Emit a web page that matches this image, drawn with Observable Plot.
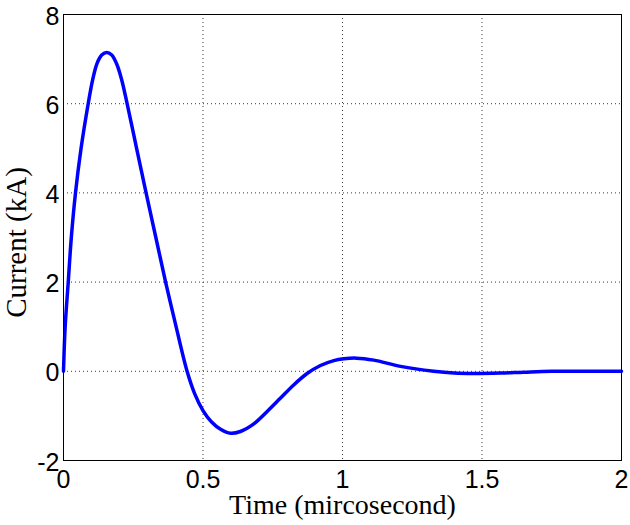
<!DOCTYPE html>
<html><head><meta charset="utf-8">
<script src="https://cdn.jsdelivr.net/npm/d3@7"></script>
<script src="https://cdn.jsdelivr.net/npm/@observablehq/plot@0.6"></script>
<style>body{margin:0;background:#fff}</style>
</head><body><div id="chart"></div>
<script>
const timeUs = [0, 0.006, 0.017, 0.028, 0.043, 0.063, 0.0885, 0.105, 0.12, 0.137, 0.155, 0.173, 0.19, 0.208, 0.228, 0.262, 0.296, 0.331, 0.366, 0.401, 0.443, 0.47, 0.50, 0.53, 0.563, 0.599, 0.634, 0.682, 0.73, 0.778, 0.826, 0.873, 0.921, 0.969, 1.005, 1.05, 1.112, 1.208, 1.327, 1.4, 1.47, 1.566, 1.65, 1.75, 2.0];
const currentKA = [0, 1.0, 2.0, 3.0, 4.0, 5.0, 6.0, 6.55, 6.9, 7.09, 7.15, 7.09, 6.9, 6.55, 6.0, 5.0, 4.0, 3.0, 2.0, 1.07, 0, -0.5, -0.88, -1.13, -1.3, -1.39, -1.35, -1.18, -0.9, -0.6, -0.3, -0.05, 0.13, 0.24, 0.28, 0.295, 0.25, 0.11, 0.0, -0.04, -0.05, -0.04, -0.02, 0, 0];
const xTicks = [0, 0.5, 1, 1.5, 2];
const yTicks = [-2, 0, 2, 4, 6, 8];
const xGrid = [0.5, 1, 1.5];
const yGrid = [0, 2, 4, 6];
const xTitle = "Time (mircosecond)";
const yTitle = "Current (kA)";
const data = timeUs.map((t, i) => ({t, c: currentKA[i]}));
const serif = "'Liberation Serif', 'Times New Roman', serif";
const chart = Plot.plot({
  width: 630, height: 525,
  marginLeft: 63, marginRight: 9, marginTop: 14, marginBottom: 65,
  style: {background: "white", fontFamily: "'Liberation Sans', Arial, sans-serif", color: "black"},
  x: {domain: [0, 2], label: null},
  y: {domain: [-2, 8], label: null},
  marks: [
    Plot.gridX(xGrid, {stroke: "#222", strokeOpacity: 0.9, strokeDasharray: "1,3"}),
    Plot.gridY(yGrid, {stroke: "#222", strokeOpacity: 0.9, strokeDasharray: "1,3"}),
    Plot.line(data, {x: "t", y: "c", stroke: "#0000ff", strokeWidth: 3.5, curve: "catmull-rom"}),
    Plot.frame({stroke: "#000"}),
    Plot.axisX(xTicks, {tickSize: 0, tickPadding: 10, fontSize: 25, tickFormat: d => String(d), label: null}),
    Plot.axisY(yTicks, {tickSize: 0, tickPadding: 4, fontSize: 25, dy: 2, tickFormat: d => String(d), label: null}),
    Plot.text([xTitle], {frameAnchor: "bottom", textAnchor: "middle", lineAnchor: "middle", dy: 45, fontSize: 28, fontFamily: serif, fill: "black"}),
    Plot.text([yTitle], {frameAnchor: "left", textAnchor: "middle", lineAnchor: "middle", rotate: -90, dx: -47, dy: 5, fontSize: 29, fontFamily: serif, fill: "black"})
  ]
});
document.getElementById("chart").appendChild(chart);
</script>
</body></html>
